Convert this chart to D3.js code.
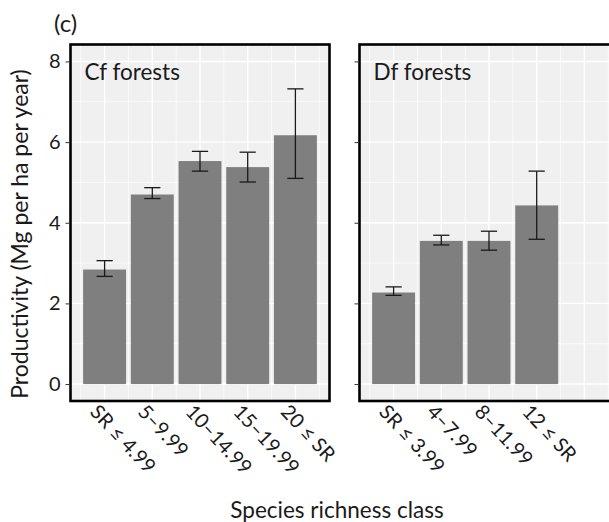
<!DOCTYPE html>
<html lang="en">
  <head>
    <meta charset="utf-8">
    <script src="https://cdn.jsdelivr.net/npm/d3@7"></script>
    <style>
      body { margin: 0; background: #fff; }
      text { font-family: Lato, "Open Sans", sans-serif; fill: #1a1a1a; }
    </style>
  </head>
  <body>
    <script type="text/javascript">

      // data
      var cfClasses = ["SR \u2264 4.99", "5\u20139.99", "10\u201314.99", "15\u201319.99", "20 \u2264 SR"];
      var cfMean = [2.84, 4.70, 5.53, 5.38, 6.17];
      var cfLow  = [2.67, 4.60, 5.28, 5.01, 5.10];
      var cfHigh = [3.06, 4.87, 5.77, 5.75, 7.32];

      var dfClasses = ["SR \u2264 3.99", "4\u20137.99", "8\u201311.99", "12 \u2264 SR"];
      var dfMean = [2.27, 3.55, 3.55, 4.43];
      var dfLow  = [2.20, 3.45, 3.32, 3.59];
      var dfHigh = [2.41, 3.69, 3.79, 5.28];

      var yTicks = [0, 2, 4, 6, 8];
      var yMinor = [1, 3, 5, 7];

      var panels = [
        {label: "Cf forests", classes: cfClasses, mean: cfMean, low: cfLow, high: cfHigh},
        {label: "Df forests", classes: dfClasses, mean: dfMean, low: dfLow, high: dfHigh}
      ];

      //Width and height
      var svgWidth = 609;
      var svgHeight = 522;
      var panelW = 259;
      var panelTop = 44.5, panelBottom = 401;
      var panelX = [70.5, 359.5];
      var nSlots = 5;

      var svg = d3.select("body")
      .append("svg")
      .attr("width", svgWidth)
      .attr("height", svgHeight);

      var y = d3.scaleLinear()
      .domain([-0.42, 8.42])
      .range([panelBottom, panelTop]);

      panels.forEach(function(p, k) {
        var x0 = panelX[k];
        var x = d3.scaleBand()
          .domain(d3.range(nSlots))
          .range([x0, x0 + panelW])
          .paddingInner(0.1)
          .paddingOuter(0.265);
        var step = x.step();
        var cx = function(i) { return x(i) + x.bandwidth() / 2; };

        var g = svg.append("g");
        g.append("rect")
          .attr("x", x0).attr("y", panelTop)
          .attr("width", panelW).attr("height", panelBottom - panelTop)
          .attr("fill", "#f0f0f0");

        // grid lines
        var vMinor = d3.range(nSlots + 1).map(function(i) { return i === nSlots ? cx(i - 1) + step / 2 : cx(i) - step / 2; });
        g.selectAll(".vminor").data(vMinor).enter().append("line")
          .attr("x1", function(d) { return d; }).attr("x2", function(d) { return d; })
          .attr("y1", panelTop).attr("y2", panelBottom)
          .attr("stroke", "#fff").attr("stroke-width", 0.7);
        g.selectAll(".hminor").data(yMinor).enter().append("line")
          .attr("x1", x0).attr("x2", x0 + panelW)
          .attr("y1", y).attr("y2", y)
          .attr("stroke", "#fff").attr("stroke-width", 0.7);
        g.selectAll(".vmajor").data(d3.range(nSlots)).enter().append("line")
          .attr("x1", cx).attr("x2", cx)
          .attr("y1", panelTop).attr("y2", panelBottom)
          .attr("stroke", "#fff").attr("stroke-width", 1.4);
        g.selectAll(".hmajor").data(yTicks).enter().append("line")
          .attr("x1", x0).attr("x2", x0 + panelW)
          .attr("y1", y).attr("y2", y)
          .attr("stroke", "#fff").attr("stroke-width", 1.4);

        // bars
        g.selectAll(".bar").data(p.mean).enter().append("rect")
          .attr("x", function(d, i) { return x(i); })
          .attr("width", x.bandwidth())
          .attr("y", function(d) { return y(d); })
          .attr("height", function(d) { return y(0) - y(d); })
          .attr("fill", "#7f7f7f");

        // error bars
        var capW = step * 0.34;
        var eb = g.selectAll(".eb").data(p.mean).enter().append("g");
        eb.append("line")
          .attr("x1", function(d, i) { return cx(i); }).attr("x2", function(d, i) { return cx(i); })
          .attr("y1", function(d, i) { return y(p.low[i]); })
          .attr("y2", function(d, i) { return y(p.high[i]); });
        eb.append("line")
          .attr("x1", function(d, i) { return cx(i) - capW / 2; }).attr("x2", function(d, i) { return cx(i) + capW / 2; })
          .attr("y1", function(d, i) { return y(p.low[i]); }).attr("y2", function(d, i) { return y(p.low[i]); });
        eb.append("line")
          .attr("x1", function(d, i) { return cx(i) - capW / 2; }).attr("x2", function(d, i) { return cx(i) + capW / 2; })
          .attr("y1", function(d, i) { return y(p.high[i]); }).attr("y2", function(d, i) { return y(p.high[i]); });
        eb.selectAll("line").attr("stroke", "#1a1a1a").attr("stroke-width", 1.3);

        // y axis ticks
        var axis = d3.axisLeft(y).tickValues(yTicks).tickSize(4).tickPadding(5);
        if (k > 0) axis.tickFormat("");
        var ag = svg.append("g")
          .attr("transform", "translate(" + (x0 - 1) + ",0)")
          .call(axis);
        ag.select(".domain").remove();
        ag.selectAll(".tick line").attr("stroke", "#333");
        ag.selectAll(".tick text")
          .style("font-family", "Lato, sans-serif")
          .attr("font-size", 20).attr("fill", "#1a1a1a");

        // border
        g.append("rect")
          .attr("x", x0).attr("y", panelTop)
          .attr("width", panelW).attr("height", panelBottom - panelTop)
          .attr("fill", "none").attr("stroke", "#000").attr("stroke-width", 2.6);

        // panel label
        svg.append("text")
          .attr("x", x0 + 14).attr("y", 80)
          .attr("font-size", 22.5)
          .text(p.label);

        // x tick labels
        svg.selectAll(".xl" + k).data(p.classes).enter().append("text")
          .attr("transform", function(d, i) { return "translate(" + (cx(i) - 5) + "," + 403 + ") rotate(47)"; })
          .attr("dy", "0.72em")
          .attr("font-size", 20)
          .text(function(d) { return d; });
      });

      svg.append("text")
        .attr("x", 54).attr("y", 32)
        .attr("font-size", 24)
        .text("(c)");

      svg.append("text")
        .attr("transform", "translate(28,234) rotate(-90)")
        .attr("text-anchor", "middle")
        .attr("font-size", 23)
        .text("Productivity (Mg per ha per year)");

      svg.append("text")
        .attr("x", 337).attr("y", 518)
        .attr("text-anchor", "middle")
        .attr("font-size", 22.5)
        .text("Species richness class");
    </script>
  </body>
</html>
